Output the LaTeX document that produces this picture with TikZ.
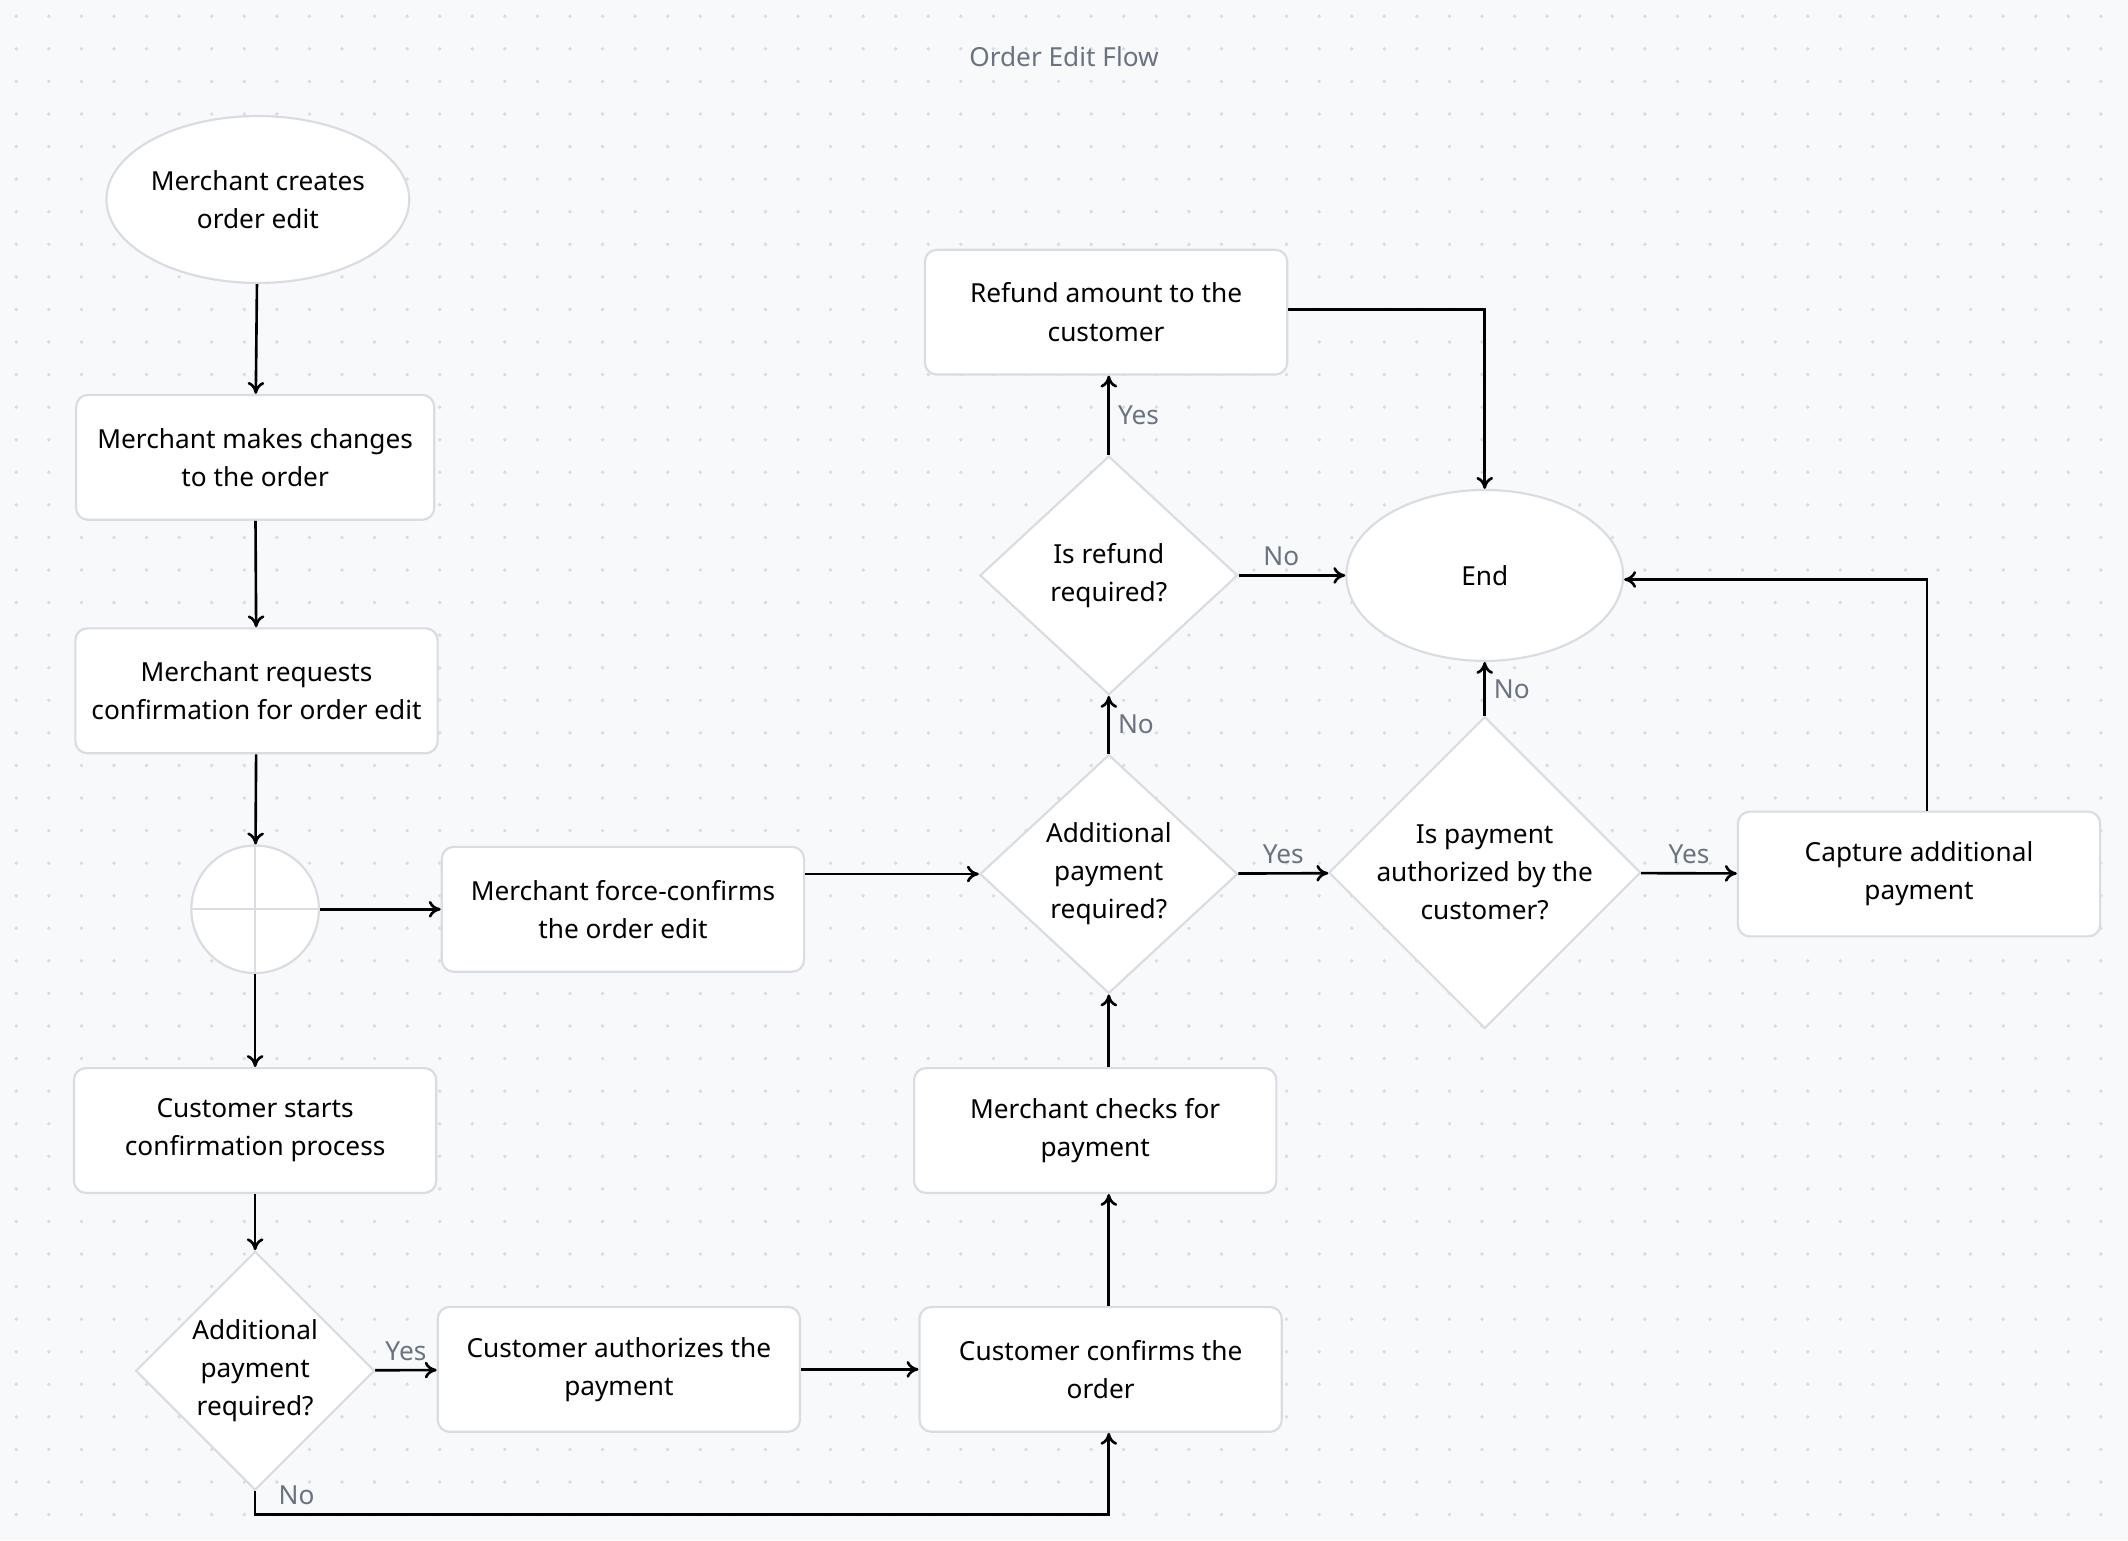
\documentclass[tikz,border=0pt]{standalone}
\usepackage{fontspec}
\setmainfont{Noto Sans}
\usetikzlibrary{shapes.geometric,arrows.meta}
\definecolor{bg}{HTML}{F8F9FA}
\definecolor{edge}{HTML}{D9DCE0}
\definecolor{lbl}{HTML}{6B7280}
\tikzset{
  box/.style={draw=edge, line width=0.9pt, fill=white, rounded corners=5pt,
    minimum width=5.34cm, minimum height=1.84cm, align=center, font=\fontsize{11}{16}\selectfont},
  oval/.style={draw=edge, line width=0.9pt, fill=white, ellipse, inner sep=0pt,
    minimum width=4.08cm, minimum height=2.52cm, align=center, font=\fontsize{11}{16}\selectfont},
  dec/.style={draw=edge, line width=0.9pt, fill=white, diamond, inner sep=0pt,
    align=center, font=\fontsize{11}{16}\selectfont},
  arr/.style={-{To[length=5pt,width=7pt]}, line width=1.1pt},
  lab/.style={text=lbl, font=\fontsize{11}{13}\selectfont}
}
\begin{document}
\begin{tikzpicture}
    [x=0.02cm, y=0.02cm]

    \fill [bg] (0, 0) rectangle (1568, -1135);
    \useasboundingbox (0, 0) rectangle (1568, -1135);
    \foreach \i in {0,...,65} {
      \foreach \j in {0,...,47} {
        \fill [edge] (12 + 24*\i, -12 - 24*\j) circle (0.8pt);
      }
    }

    \node [lab] at (784, -42) (title) {Order Edit Flow};

    \node [oval, minimum width=3.9cm, minimum height=2.46cm] at (190, -147) (start) {Merchant creates\\order edit};
    \node [box, minimum width=5.28cm] at (188, -337) (changes) {Merchant makes changes\\to the order};
    \node [box] at (189, -509) (request) {Merchant requests\\confirmation for order edit};
    \node [draw=edge, line width=0.9pt, fill=white, circle, inner sep=0pt, minimum size=1.88cm] at (188, -670) (fork) {};
    \draw [edge, line width=0.9pt] (fork.north) -- (fork.south) (fork.west) -- (fork.east);
    \node [box] at (459, -670) (force) {Merchant force-confirms\\the order edit};
    \node [box] at (188, -833) (custstart) {Customer starts\\confirmation process};
    \node [dec, minimum width=3.52cm, minimum height=3.52cm] at (188, -1010) (payA) {Additional\\payment\\required?};
    \node [box] at (456, -1009) (authorize) {Customer authorizes the\\payment};
    \node [box] at (811, -1009) (confirm) {Customer confirms the\\order};
    \node [box] at (807, -833) (check) {Merchant checks for\\payment};
    \node [dec, minimum width=3.8cm, minimum height=3.52cm] at (817, -644) (payB) {Additional\\payment\\required?};
    \node [dec, minimum width=3.8cm, minimum height=3.52cm] at (817, -424) (refundq) {Is refund\\required?};
    \node [box] at (815, -230) (refund) {Refund amount to the\\customer};
    \node [oval] at (1094, -424) (end) {End};
    \node [dec, minimum width=4.4cm, minimum height=4.1cm] at (1094, -643) (authq) {Is payment\\authorized by the\\customer?};
    \node [box] at (1414, -644) (capture) {Capture additional\\payment};

    \draw [arr] (start) -- (changes);
    \draw [arr] (changes) -- (request);
    \draw [arr] (request) -- (fork);
    \draw [arr] (fork) -- (force);
    \draw [arr] (fork) -- (custstart);
    \draw [arr] (custstart) -- (payA);
    \draw [arr] (payA) -- node [lab, above] {Yes} (authorize);
    \draw [arr] (authorize) -- (confirm);
    \draw [arr] (payA.south) -- ++ (0, -17) node [lab, right, xshift=6, yshift=8] {No} -| (817, 0 |- confirm.south);
    \draw [arr] (817, 0 |- confirm.north) -- (817, 0 |- check.south);
    \draw [arr] (check.north -| payB) -- (payB);
    \draw [arr] (force.east |- payB) -- (payB.west);
    \draw [arr] (payB) -- node [lab, right] {No} (refundq);
    \draw [arr] (refundq) -- node [lab, right] {Yes} (refundq |- refund.south);
    \draw [arr] (refundq) -- node [lab, above, pos=0.4] {No} (end);
    \draw [arr] (refund.east |- 0, -228) -| (end.north);
    \draw [arr] (payB) -- node [lab, above] {Yes} (authq);
    \draw [arr] (authq) -- node [lab, right] {No} (end);
    \draw [arr] (authq) -- node [lab, above] {Yes} (capture);
    \draw [arr] (capture.north -| 1420, 0) |- (end.east |- 0, -427);

  \end{tikzpicture}
\end{document}
